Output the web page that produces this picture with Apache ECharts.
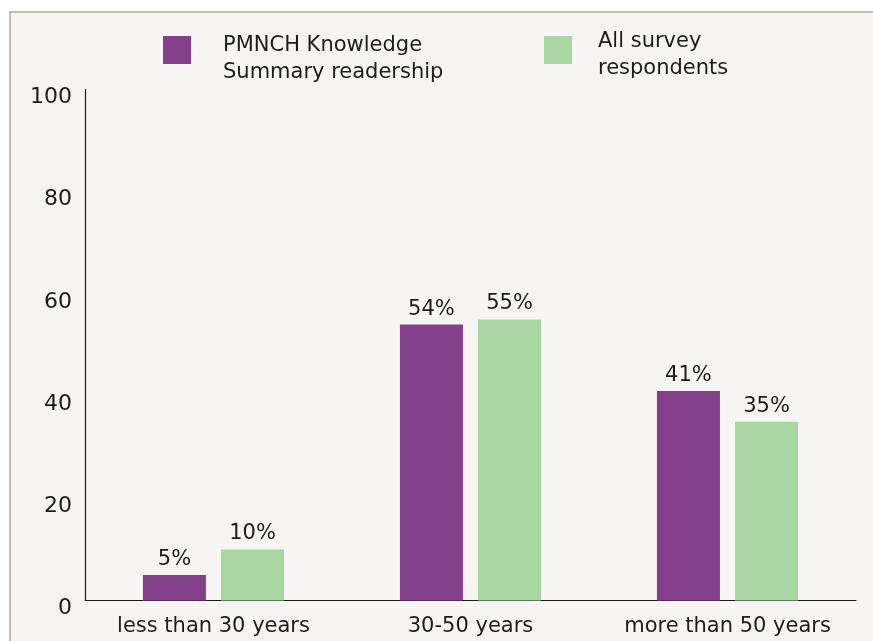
<!DOCTYPE html>
<html>
<head>
<meta charset="utf-8">
<title>Age of respondents</title>
<script src="https://cdn.jsdelivr.net/npm/echarts@6/dist/echarts.min.js"></script>
<style>
  html, body { margin: 0; padding: 0; background: #ffffff; }
  #chart { width: 873px; height: 641px; }
</style>
</head>
<body>
<div id="chart"></div>
<script>
// Age groups and the share (%) of each audience in them
const categories = ['less than 30 years', '30-50 years', 'more than 50 years'];
const readershipValues = [5, 54, 41];
const respondentValues = [10, 55, 35];
const seriesNames = ['PMNCH Knowledge\nSummary readership', 'All survey\nrespondents'];
const yTicks = { min: 0, max: 100, interval: 20 };

const FONT = 'DejaVu Sans';
const INK = '#1c1c1c';
const PURPLE = '#843f8d';
const GREEN = '#a8d5a2';

const chart = echarts.init(document.getElementById('chart'), null, { renderer: 'canvas' });

const barLabel = {
  show: true,
  position: 'top',
  distance: 5,
  formatter: p => p.value + '%',
  fontFamily: FONT,
  fontSize: 21,
  color: INK
};

// legend text: an empty spacer line on top pushes the two text lines down
function legendText(spacerStyle) {
  return name => '{' + spacerStyle + '|}\n' + name.split('\n').map(s => '{t|' + s + '}').join('\n');
}
function legendRich() {
  return {
    t: { fontFamily: FONT, fontSize: 21, lineHeight: 27, color: INK },
    s1: { lineHeight: 19, height: 19, fontSize: 1 },
    s2: { lineHeight: 11, height: 11, fontSize: 1 }
  };
}

chart.setOption({
  backgroundColor: '#ffffff',
  animation: false,
  graphic: [{
    type: 'rect',
    z: -10,
    silent: true,
    shape: { x: 10, y: 12, width: 880, height: 660 },
    style: { fill: '#f6f5f3', stroke: '#b3a89c', lineWidth: 1.5 }
  }],
  legend: [{
    data: [seriesNames[0]],
    left: 163,
    top: 13.5,
    padding: 0,
    icon: 'rect',
    itemWidth: 28,
    itemHeight: 28,
    selectedMode: false,
    formatter: legendText('s1'),
    textStyle: {
      fontFamily: FONT, fontSize: 21, lineHeight: 27, color: INK,
      padding: [0, 0, 0, 27],
      rich: legendRich()
    }
  }, {
    data: [seriesNames[1]],
    left: 544,
    top: 17.5,
    padding: 0,
    icon: 'rect',
    itemWidth: 28,
    itemHeight: 28,
    selectedMode: false,
    formatter: legendText('s2'),
    textStyle: {
      fontFamily: FONT, fontSize: 21, lineHeight: 27, color: INK,
      padding: [0, 0, 0, 21],
      rich: legendRich()
    }
  }],
  grid: { left: 85, right: 17, top: 89.5, bottom: 40.5, containLabel: false },
  xAxis: {
    type: 'category',
    data: categories,
    axisLine: { show: true, lineStyle: { color: '#1a1a1a', width: 1.2 } },
    axisTick: { show: false },
    axisLabel: { interval: 0, fontFamily: FONT, fontSize: 21, color: INK, margin: 16 },
    splitLine: { show: false }
  },
  yAxis: {
    type: 'value',
    min: yTicks.min,
    max: yTicks.max,
    interval: yTicks.interval,
    axisLine: { show: true, lineStyle: { color: '#1a1a1a', width: 1.2 } },
    axisTick: { show: false },
    splitLine: { show: false },
    axisLabel: {
      fontFamily: FONT, fontSize: 22, color: INK, margin: 13,
      verticalAlign: 'top', lineHeight: 16
    }
  },
  series: [{
    name: seriesNames[0],
    type: 'bar',
    data: readershipValues,
    barWidth: 63,
    barGap: '24%',
    itemStyle: { color: PURPLE },
    label: barLabel
  }, {
    name: seriesNames[1],
    type: 'bar',
    data: respondentValues,
    barWidth: 63,
    itemStyle: { color: GREEN },
    label: barLabel
  }]
});
</script>
</body>
</html>
